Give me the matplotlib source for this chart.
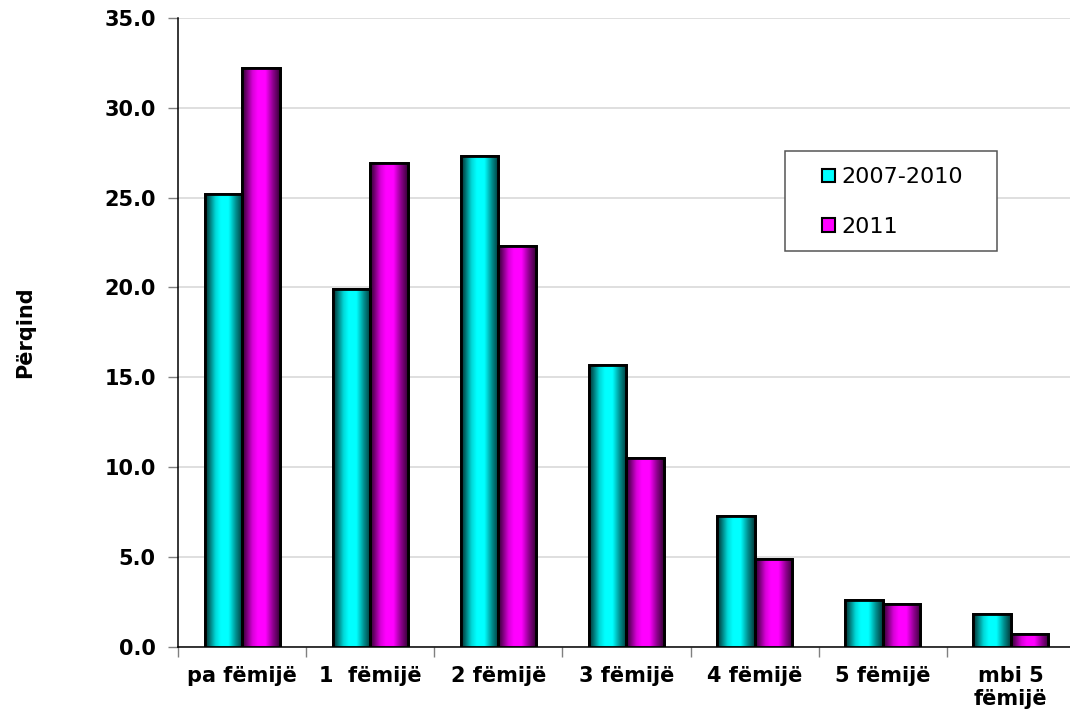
import matplotlib
matplotlib.use("Agg")
import matplotlib.pyplot as plt
import numpy as np
from matplotlib.colors import LinearSegmentedColormap
from matplotlib.patches import Patch, Rectangle

categories = ["pa fëmijë", "1  fëmijë", "2 fëmijë", "3 fëmijë", "4 fëmijë", "5 fëmijë", "mbi 5\nfëmijë"]
series_names = ["2007-2010", "2011"]
values_2007_2010 = [25.2, 19.9, 27.3, 15.7, 7.3, 2.6, 1.8]
values_2011 = [32.2, 26.9, 22.3, 10.5, 4.9, 2.4, 0.7]
y_ticks = [0, 5, 10, 15, 20, 25, 30, 35]

colors = ["#00FFFF", "#FF00FF"]

plt.rcParams['font.family'] = ['DejaVu Sans']

W, H = 1070, 712
fig = plt.figure(figsize=(W / 100, H / 100), dpi=100)
ax = fig.add_axes([178 / W, 1 - 646.7 / H, 897 / W, (646.7 - 18) / H])

x = np.arange(len(categories))
bw = 0.293


def make_cmap(hexcol):
    base = np.array(matplotlib.colors.to_rgb(hexcol))
    pos = [0.0, 0.10, 0.28, 0.42, 0.62, 0.82, 1.0]
    inten = [0.18, 0.40, 0.85, 1.0, 1.0, 0.55, 0.22]
    cols = [(p, tuple(base * i)) for p, i in zip(pos, inten)]
    return LinearSegmentedColormap.from_list("g", cols)


grad = np.linspace(0, 1, 256).reshape(1, -1)

for vals, col, off in [(values_2007_2010, colors[0], -bw / 2), (values_2011, colors[1], bw / 2)]:
    cmap = make_cmap(col)
    bars = ax.bar(x + off, vals, width=bw, color=col, edgecolor="black", linewidth=2.0, zorder=3)
    for b in bars:
        x0, y0 = b.get_x(), b.get_y()
        w, h = b.get_width(), b.get_height()
        im = ax.imshow(grad, extent=[x0, x0 + w, y0, y0 + h], aspect="auto", cmap=cmap,
                       zorder=3.5, interpolation="bilinear")
        im.set_clip_path(b)
        edge = Rectangle((x0, y0), w, h, fill=False, edgecolor="black", linewidth=2.0, zorder=4)
        ax.add_patch(edge)

ax.set_xlim(-0.5, len(categories) - 0.5)
ax.set_ylim(0, 35)
ax.set_yticks(y_ticks)
ax.set_yticklabels([f"{v:.1f}" for v in y_ticks], fontsize=15, fontweight="bold")
ax.set_xticks(x)
ax.set_xticklabels(categories, fontsize=15, fontweight="bold", linespacing=1.2)
ax.set_xticks(np.arange(-0.5, len(categories), 1.0), minor=True)
ax.tick_params(axis="x", which="major", length=0, pad=14)
ax.tick_params(axis="x", which="minor", length=7, color="#808080", width=1)
ax.tick_params(axis="y", which="major", length=7, color="#808080", width=1, pad=9)

ax.grid(axis="y", color="#d9d9d9", linewidth=1.2, zorder=0)
ax.set_axisbelow(True)
for s in ["top", "right"]:
    ax.spines[s].set_visible(False)
ax.spines["left"].set_color("black")
ax.spines["bottom"].set_color("black")
ax.spines["left"].set_linewidth(1.1)
ax.spines["bottom"].set_linewidth(1.1)

fig.text(25 / W, 1 - 332 / H, "Përqind", rotation=90, ha="center", va="center",
         fontsize=15, fontweight="bold")

# legend frame
frame = Rectangle((785 / W, 1 - 251 / H), 212 / W, 100 / H, transform=fig.transFigure,
                  fill=True, facecolor="white", edgecolor="#555555", linewidth=1.1,
                  zorder=5, clip_on=False)
ax.add_patch(frame)
handles = [Patch(facecolor=c, edgecolor="black", linewidth=1.5) for c in colors]
leg = ax.legend(handles, series_names, loc="upper left",
                bbox_to_anchor=(818 / W, 1 - 163 / H), bbox_transform=fig.transFigure,
                frameon=False, fontsize=16, handlelength=0.55, handleheight=0.55,
                handletextpad=0.3, labelspacing=1.32, borderpad=0.2, borderaxespad=0)
leg.set_zorder(6)

fig.savefig("out.png", dpi=100)
